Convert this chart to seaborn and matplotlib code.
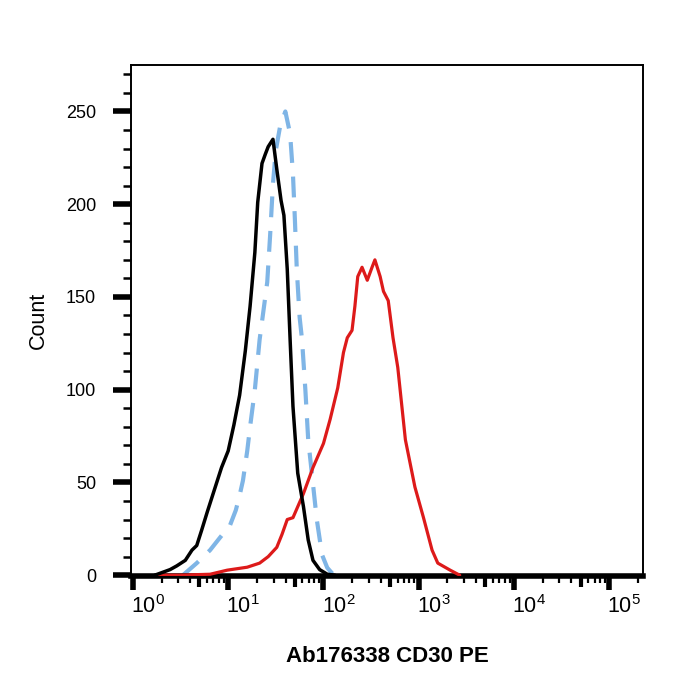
import numpy as np
import pandas as pd
import matplotlib
matplotlib.use('agg')
import matplotlib.pyplot as plt
import matplotlib.transforms as mtransforms
from matplotlib.ticker import FixedLocator, NullFormatter
import seaborn as sns

# histogram outlines: log10(PE intensity) vs count
black_log = [0.23, 0.39, 0.46, 0.55, 0.62, 0.67, 0.72, 0.78, 0.83, 0.88, 0.93, 1.00,
             1.06, 1.12, 1.18, 1.23, 1.28, 1.31, 1.355, 1.39, 1.42, 1.47, 1.51, 1.555,
             1.585, 1.62, 1.65, 1.68, 1.73, 1.79, 1.84, 1.89, 1.96, 2.04, 2.12]
black_cnt = [0, 3, 5, 8, 13.5, 16, 24, 34, 42, 50, 58, 67,
             81, 97, 121, 145, 174, 201, 222, 227, 231, 235, 219, 202,
             194, 165, 127, 91, 55, 37, 19, 8, 3, 0.5, 0]

blue_log = [0.525, 0.67, 0.81, 0.91, 1.02, 1.08, 1.12, 1.155, 1.20, 1.23, 1.28, 1.33,
            1.41, 1.44, 1.47, 1.50, 1.545, 1.60, 1.65, 1.68, 1.70, 1.72, 1.75, 1.775,
            1.81, 1.84, 1.88, 1.93, 1.985, 2.04, 2.10, 2.17]
blue_cnt = [0, 6.5, 13.5, 20, 27, 35, 43, 51, 67, 80, 100, 127,
            158, 183, 211, 229, 242, 250, 238, 216, 192, 165, 139, 127,
            100, 73, 54, 30, 11, 4, 0.5, 0]

red_log = [0.26, 0.49, 0.81, 0.99, 1.20, 1.33, 1.42, 1.51, 1.565, 1.62, 1.68, 1.79,
           1.89, 2.00, 2.07, 2.15, 2.21, 2.25, 2.30, 2.33, 2.36, 2.405, 2.46, 2.51,
           2.54, 2.595, 2.63, 2.68, 2.73, 2.78, 2.86, 2.96, 3.05, 3.14, 3.20, 3.33, 3.43]
red_cnt = [0, 0, 0.5, 2.7, 4.3, 6.5, 10, 15, 22, 30, 31, 44,
           58, 71, 84, 101, 120, 128, 132, 145, 161, 166, 159, 166,
           170, 161, 153, 148, 128, 112, 73, 47.5, 31, 13.5, 6.5, 2.7, 0]

x_decades = [0, 1, 2, 3, 4, 5]
y_ticks = [0, 50, 100, 150, 200, 250]

sns.set_style('white')
plt.rcParams['font.family'] = ['Liberation Sans', 'DejaVu Sans']
plt.rcParams['text.color'] = 'black'
plt.rcParams['axes.labelcolor'] = 'black'
plt.rcParams['xtick.color'] = 'black'
plt.rcParams['ytick.color'] = 'black'

fig = plt.figure(figsize=(7, 7), dpi=100)
ax = fig.add_axes([0.187, 0.177, 0.732, 0.730])

def frame(logs, cnts):
    return pd.DataFrame({'pe': np.power(10.0, logs), 'count': cnts})

sns.lineplot(data=frame(blue_log, blue_cnt), x='pe', y='count', ax=ax, sort=False,
             color='#7fb5e6', lw=3.0, linestyle=(0, (5, 3.3)), zorder=2)
sns.lineplot(data=frame(red_log, red_cnt), x='pe', y='count', ax=ax, sort=False,
             color='#dd1a1a', lw=2.3, zorder=3)
sns.lineplot(data=frame(black_log, black_cnt), x='pe', y='count', ax=ax, sort=False,
             color='black', lw=2.5, zorder=4)

ax.set_xscale('log')
ax.set_xlim(10 ** -0.021, 10 ** 5.357)
ax.set_ylim(-0.5, 275)

# x ticks
xmax = 10 ** 5.357
majors = [10.0 ** d for d in x_decades]
minors = [m * 10.0 ** d for d in x_decades for m in (2, 3, 4, 6, 7, 8, 9)
          if m * 10.0 ** d < xmax]
ax.xaxis.set_major_locator(FixedLocator(majors))
ax.xaxis.set_minor_locator(FixedLocator(minors))
ax.xaxis.set_minor_formatter(NullFormatter())
ax.set_xticklabels([f'$\\mathregular{{10^{{{d}}}}}$' for d in x_decades])
ax.tick_params(axis='x', which='major', direction='out', length=10, width=4,
               labelsize=15.5, pad=4, bottom=True)
ax.tick_params(axis='x', which='minor', direction='out', length=5, width=1.6,
               bottom=True)
shift = mtransforms.ScaledTranslation(15 / 100, 0, fig.dpi_scale_trans)
for lab in ax.get_xticklabels():
    lab.set_transform(lab.get_transform() + shift)

# medium ticks at 5 x 10^k
sec = ax.secondary_xaxis('bottom')
sec.set_xticks([5 * 10.0 ** d for d in x_decades if 5 * 10.0 ** d < xmax])
sec.xaxis.set_minor_locator(FixedLocator([]))
sec.set_xticklabels([])
sec.tick_params(axis='x', direction='out', length=8, width=3)
sec.spines['bottom'].set_visible(False)

# y ticks
ax.set_yticks(y_ticks)
ax.yaxis.set_minor_locator(FixedLocator([v for v in range(10, 275, 10) if v % 50]))
ax.tick_params(axis='y', which='major', direction='out', length=13, width=4,
               labelsize=13, pad=12, left=True)
ax.tick_params(axis='y', which='minor', direction='out', length=6, width=1.8,
               left=True)

for side in ['left', 'top', 'right']:
    ax.spines[side].set_linewidth(1.4)
    ax.spines[side].set_color('black')
ax.spines['bottom'].set_linewidth(4)
ax.spines['bottom'].set_color('black')

ax.set_xlabel('Ab176338 CD30 PE', fontsize=16, fontweight='bold', labelpad=20)
ax.set_ylabel('Count', fontsize=15.5, labelpad=12)
ax.grid(False)

fig.savefig('out.png', dpi=100)
